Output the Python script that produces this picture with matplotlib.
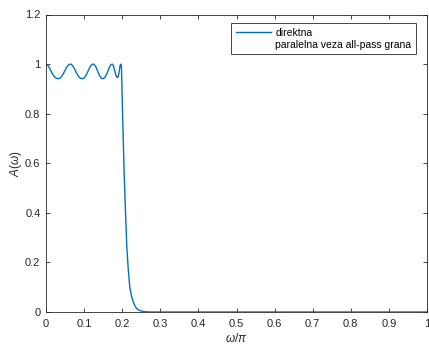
import matplotlib
matplotlib.use("Agg")
import matplotlib.pyplot as plt

plt.rcParams['font.family'] = ['Liberation Sans', 'DejaVu Sans']
plt.rcParams['mathtext.fontset'] = 'custom'
plt.rcParams['mathtext.it'] = 'Liberation Sans:italic'
plt.rcParams['mathtext.rm'] = 'Liberation Sans'

# amplitude response
w = [0.000, 0.005, 0.010, 0.015, 0.020, 0.025, 0.030, 0.035, 0.040, 0.045,
     0.050, 0.055, 0.060, 0.065, 0.070, 0.075, 0.080, 0.085, 0.090, 0.095,
     0.100, 0.105, 0.110, 0.115, 0.120, 0.125, 0.130, 0.135, 0.140, 0.145,
     0.150, 0.155, 0.160, 0.165, 0.170, 0.174, 0.177, 0.180, 0.183, 0.186,
     0.188, 0.190, 0.192, 0.194, 0.196, 0.197, 0.198, 0.199, 0.200, 0.202,
     0.205, 0.209, 0.212, 0.216, 0.220, 0.225, 0.229, 0.235, 0.241, 0.248,
     0.255, 0.265, 0.280, 0.400, 0.600, 0.800, 1.000]
A = [1.000, 0.995, 0.982, 0.966, 0.953, 0.945, 0.941, 0.942, 0.948, 0.960,
     0.975, 0.989, 0.998, 1.000, 0.994, 0.980, 0.964, 0.951, 0.943, 0.941,
     0.944, 0.954, 0.970, 0.987, 0.998, 1.000, 0.992, 0.974, 0.955, 0.943,
     0.941, 0.947, 0.962, 0.982, 0.997, 1.000, 0.993, 0.975, 0.957, 0.947,
     0.946, 0.952, 0.968, 0.990, 1.000, 0.998, 0.985, 0.930, 0.860, 0.740,
     0.565, 0.390, 0.265, 0.170, 0.100, 0.060, 0.040, 0.020, 0.010, 0.005,
     0.002, 0.0005, 0.0, 0.0, 0.0, 0.0, 0.0]

labels = ['direktna', 'paralelna veza all-pass grana']
xticks = [0, 0.1, 0.2, 0.3, 0.4, 0.5, 0.6, 0.7, 0.8, 0.9, 1]
yticks = [0, 0.2, 0.4, 0.6, 0.8, 1, 1.2]

fig = plt.figure(figsize=(4.29, 3.46), dpi=100)
ax = fig.add_axes([46/429, 34/346, 381/429, 297.5/346])

ax.plot(w, A, color='#0072BD', lw=1.0, label=labels[0])
ax.plot([], [], color='none', label=labels[1])

ax.set_xlim(0, 1)
ax.set_ylim(0, 1.2)
ax.set_xticks(xticks)
ax.set_xticklabels([f'{t:g}' for t in xticks])
ax.set_yticks(yticks)
ax.set_yticklabels([f'{t:g}' for t in yticks])
ax.tick_params(direction='in', length=3, width=0.6, top=True, right=True,
               labelsize=8, colors='#262626', pad=4)
ax.tick_params(axis='x', pad=5)
for s in ax.spines.values():
    s.set_linewidth(0.6)
    s.set_color('#262626')

ax.set_xlabel(r'$\omega/\pi$', fontsize=8.5, color='#262626', labelpad=2.5)
ax.set_ylabel(r'$A(\omega)$', fontsize=8.5, color='#262626', labelpad=0.5)

leg = ax.legend(loc='upper right', fontsize=7.5, handlelength=3.4,
                fancybox=False, framealpha=1, edgecolor='#262626',
                borderpad=0.45, labelspacing=0.2, handletextpad=0.4,
                borderaxespad=0, bbox_to_anchor=(0.971, 0.972))
leg.get_frame().set_linewidth(0.6)

fig.savefig('out.png', dpi=100)
